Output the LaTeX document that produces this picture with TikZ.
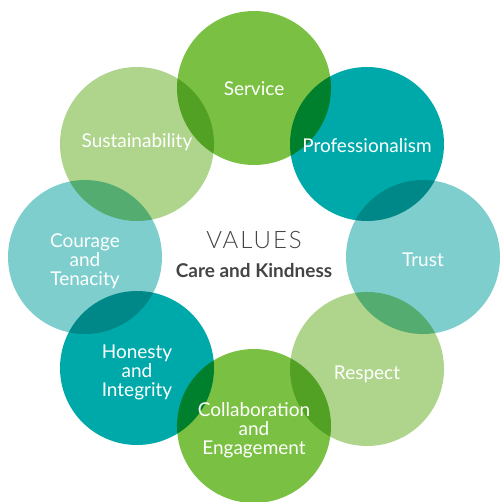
\documentclass[tikz,border=0pt]{standalone}
\usepackage{fontspec}
\setmainfont{Lato}
\newfontfamily\valueslight{Lato Light}[LetterSpace=8]
\definecolor{valgreen}{HTML}{7AC143}
\definecolor{valteal}{HTML}{00A9A9}
\definecolor{vallightteal}{HTML}{7ECECE}
\definecolor{vallightgreen}{HTML}{AED58B}
\definecolor{valgray}{HTML}{444444}

\tikzset{value/.style={circle, minimum size=154pt, inner sep=0pt, fill=#1},
  valtext/.style={text=white, align=center, font=\fontsize{19}{19}\selectfont}}

\begin{document}
\begin{tikzpicture}[x=1pt,y=-1pt]
\useasboundingbox (0,0) rectangle (500,502);
% circles, overlaps darken
\begin{scope}[blend group=multiply]
\node[value=valgreen] (service) at (254,88) {};
\node[value=valteal] (prof) at (367,144) {};
\node[value=vallightteal] (trust) at (423,257) {};
\node[value=vallightgreen] (respect) at (367,369) {};
\node[value=valgreen] (collab) at (254,426) {};
\node[value=valteal] (honesty) at (137,368) {};
\node[value=vallightteal] (courage) at (85,257) {};
\node[value=vallightgreen] (sustain) at (137,144) {};
\end{scope}

\node[valtext, yshift=-1pt] at (service) {Service};
\node[valtext, yshift=-2pt] at (prof) {Professionalism};
\node[valtext, yshift=-3pt] at (trust) {Trust};
\node[valtext, yshift=-5pt] at (respect) {Respect};
\node[valtext, yshift=-4pt] at (collab) {Collaboration\\and\\Engagement};
\node[valtext, yshift=-4pt] at (honesty) {Honesty\\and\\Integrity};
\node[valtext, yshift=-4pt] at (courage) {Courage\\and\\Tenacity};
\node[valtext, yshift=2pt] at (sustain) {Sustainability};

\node[text=valgray, font=\valueslight\fontsize{24}{26}\selectfont] (values) at (254,240) {VALUES};
\node[text=valgray, font=\bfseries\fontsize{19}{21}\selectfont] (care) at (254,271) {Care and Kindness};
\end{tikzpicture}
\end{document}
